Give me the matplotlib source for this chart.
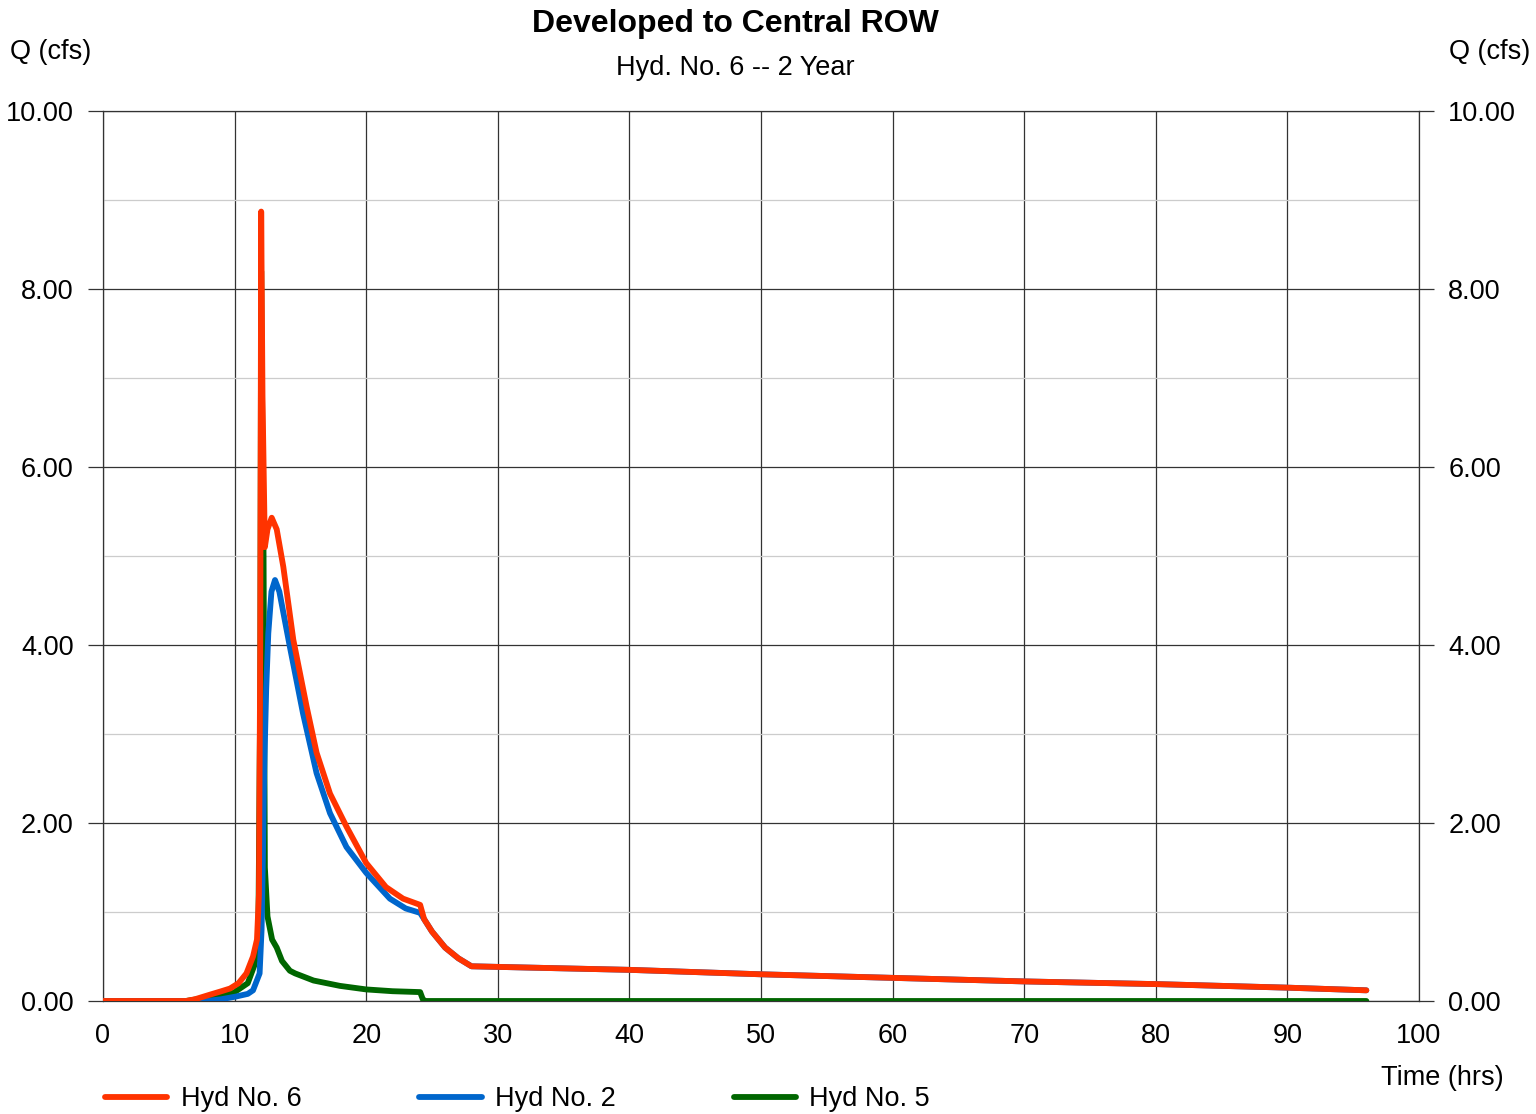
import matplotlib.pyplot as plt
import matplotlib.ticker as mticker
import numpy as np

plt.rcParams['font.family'] = ['Liberation Sans', 'DejaVu Sans']

# Hyd No. 6 (combined)
t6 = [0, 6.3, 7, 8.1, 9, 9.65, 10.3, 10.9, 11.4, 11.7, 11.85, 11.95, 12.02, 12.12, 12.3,
      12.5, 12.82, 13.2, 13.7, 14.46, 15.47, 16.23, 17.25, 18.5, 20, 21.5, 22.8, 24.1,
      24.4, 25, 26, 27, 28, 40, 50, 60, 70, 80, 90, 96]
q6 = [0, 0, 0.02, 0.07, 0.11, 0.14, 0.2, 0.31, 0.5, 0.69, 1.2, 4.0, 8.87, 6.8, 5.1,
      5.3, 5.43, 5.3, 4.88, 4.06, 3.31, 2.79, 2.33, 1.96, 1.55, 1.28, 1.15, 1.08,
      0.92, 0.78, 0.6, 0.48, 0.39, 0.35, 0.30, 0.26, 0.22, 0.19, 0.15, 0.12]

# Hyd No. 2
t2 = [0, 7.9, 9, 10.1, 11, 11.4, 11.9, 12.05, 12.15, 12.25, 12.4, 12.56, 12.8, 13.07,
      13.4, 14.2, 15.2, 16.23, 17.25, 18.5, 20, 21.8, 23, 24.1, 24.4, 25, 26, 27, 28,
      40, 50, 60, 70, 80, 90, 96]
q2 = [0, 0, 0.02, 0.05, 0.08, 0.12, 0.31, 0.8, 1.6, 2.6, 3.5, 4.13, 4.6, 4.73,
      4.6, 3.98, 3.23, 2.56, 2.11, 1.73, 1.44, 1.15, 1.04, 0.99, 0.92, 0.78, 0.6, 0.48, 0.39,
      0.35, 0.30, 0.26, 0.22, 0.19, 0.15, 0.12]

# Hyd No. 5
t5 = [0, 6.3, 8, 9.9, 11, 11.5, 11.8, 11.95, 12.02, 12.1, 12.2, 12.3, 12.5, 12.85, 13.2,
      13.6, 14.2, 14.6, 16, 17, 18, 20, 22, 24.1, 24.3, 24.5, 96]
q5 = [0, 0, 0.04, 0.09, 0.2, 0.4, 0.65, 3.5, 8.2, 6.5, 5.0, 1.5, 0.95, 0.69, 0.6,
      0.45, 0.34, 0.31, 0.23, 0.2, 0.17, 0.13, 0.11, 0.1, 0.02, 0, 0]

fig = plt.figure(figsize=(15.36, 11.14), dpi=100)
ax = fig.add_axes([103 / 1536, 1 - 1001 / 1114, (1419 - 103) / 1536, (1001 - 111) / 1114])

ax.plot(t5, q5, color='#006600', lw=4.2, label='Hyd No. 5', zorder=3, solid_capstyle='round')
ax.plot(t2, q2, color='#0066cc', lw=4.2, label='Hyd No. 2', zorder=4, solid_capstyle='round')
ax.plot(t6, q6, color='#ff3300', lw=4.2, label='Hyd No. 6', zorder=5, solid_capstyle='round')

ax.set_xlim(0, 100)
ax.set_ylim(0, 10)
ax.set_xticks(np.arange(0, 101, 10))
ax.set_yticks(np.arange(0, 10.1, 2))
ax.yaxis.set_minor_locator(mticker.MultipleLocator(1))
ax.yaxis.set_major_formatter(mticker.FormatStrFormatter('%.2f'))

ax.grid(True, which='major', color='#333333', lw=0.9)
ax.grid(True, which='minor', axis='y', color='#cccccc', lw=0.9)
ax.tick_params(which='minor', length=0)
ax.tick_params(which='major', labelsize=19.5, length=11, width=0.9, color='#333333',
               right=True, labelright=True, pad=10)
ax.tick_params(axis='x', length=0, pad=16)
for s in ax.spines.values():
    s.set_color('#333333')
    s.set_linewidth(0.9)

fig.text(735 / 1536, 1 - 24 / 1114, 'Developed to Central ROW', ha='center', va='center',
         fontsize=23, fontweight='bold')
fig.text(735 / 1536, 1 - 68 / 1114, 'Hyd. No. 6 -- 2 Year', ha='center', va='center', fontsize=19.5)
fig.text(10 / 1536, 1 - 52 / 1114, 'Q (cfs)', ha='left', va='center', fontsize=19.5)
fig.text(1530 / 1536, 1 - 52 / 1114, 'Q (cfs)', ha='right', va='center', fontsize=19.5)
fig.text(1504 / 1536, 1 - 1078 / 1114, 'Time (hrs)', ha='right', va='center', fontsize=19.5)

h, l = ax.get_legend_handles_labels()
order = [2, 1, 0]
fig.legend([h[i] for i in order], [l[i] for i in order], loc='center left',
           bbox_to_anchor=(94 / 1536, 1 - 1099 / 1114), ncol=3, frameon=False, fontsize=19.5,
           handlelength=2.3, handletextpad=0.5, columnspacing=4.35, borderaxespad=0)

fig.savefig('out.png', dpi=100)
